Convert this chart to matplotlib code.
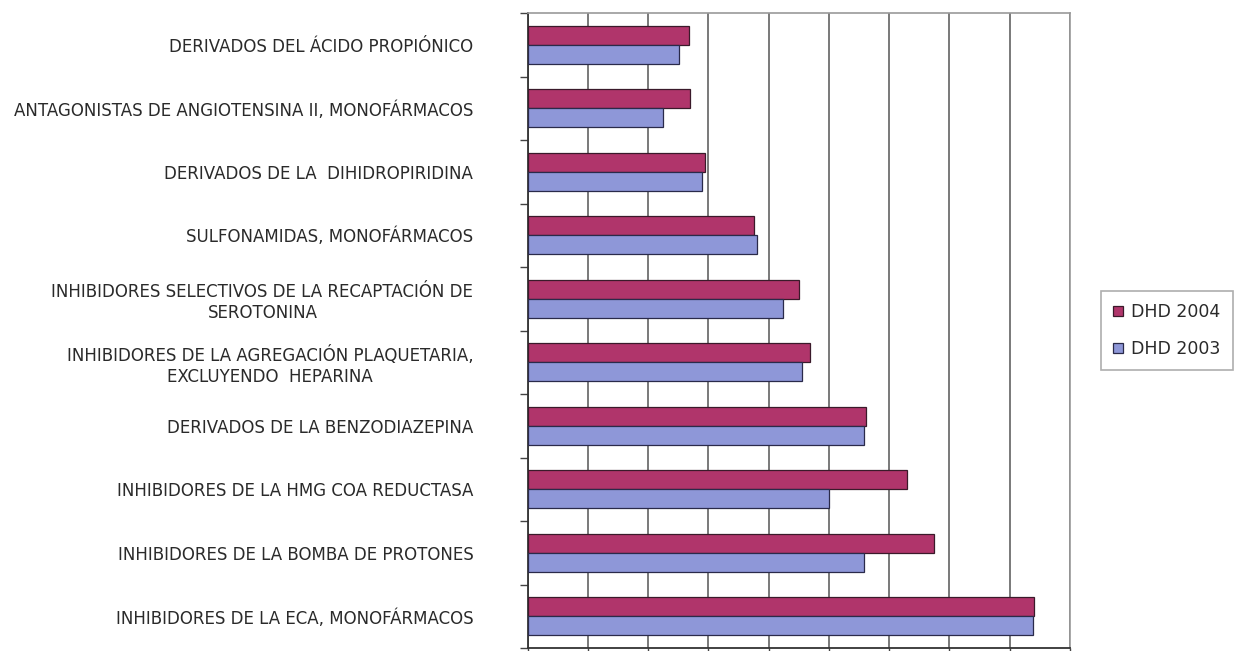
import matplotlib
matplotlib.use('Agg')
import matplotlib.pyplot as plt
import numpy as np

# ---- Data (top to bottom as shown) ----
categories = [
    'DERIVADOS DEL ÁCIDO PROPIÓNICO',
    'ANTAGONISTAS DE ANGIOTENSINA II, MONOFÁRMACOS',
    'DERIVADOS DE LA  DIHIDROPIRIDINA',
    'SULFONAMIDAS, MONOFÁRMACOS',
    'INHIBIDORES SELECTIVOS DE LA RECAPTACIÓN DE\nSEROTONINA',
    'INHIBIDORES DE LA AGREGACIÓN PLAQUETARIA,\nEXCLUYENDO  HEPARINA',
    'DERIVADOS DE LA BENZODIAZEPINA',
    'INHIBIDORES DE LA HMG COA REDUCTASA',
    'INHIBIDORES DE LA BOMBA DE PROTONES',
    'INHIBIDORES DE LA ECA, MONOFÁRMACOS',
]
dhd_2004 = [13.4, 13.5, 14.7, 18.8, 22.5, 23.4, 28.1, 31.5, 33.7, 42.0]
dhd_2003 = [12.6, 11.2, 14.5, 19.0, 21.2, 22.8, 27.9, 25.0, 27.9, 41.9]

C2004 = '#B0356B'
C2003 = '#8E97D8'

fig = plt.figure(figsize=(12.34, 6.51), dpi=100)
ax = fig.add_axes([527.5 / 1234, 3 / 651, (1070 - 527.5) / 1234, (648 - 13) / 651])

y = np.arange(len(categories))
h = 0.3
ax.barh(y - h / 2, dhd_2004, height=h, color=C2004, edgecolor='#3a1a2a',
        linewidth=0.9, label='DHD 2004', zorder=3)
ax.barh(y + h / 2, dhd_2003, height=h, color=C2003, edgecolor='#2a2a4a',
        linewidth=0.9, label='DHD 2003', zorder=3)

ax.set_xlim(0, 45)
ax.set_ylim(len(categories) - 0.5, -0.5)

# category boundary ticks (Excel style) + centered labels
ax.set_yticks(np.arange(len(categories) + 1) - 0.5)
ax.set_yticklabels([])
ax.set_yticks(y, minor=True)
ax.set_yticklabels(categories, minor=True, fontsize=12, color='#2a2a2a',
                   multialignment='center')
ax.tick_params(axis='y', which='major', length=6, width=1, color='#444444',
               direction='out')
ax.tick_params(axis='y', which='minor', length=0, pad=39)

ax.set_xticks(np.arange(0, 46, 5))
ax.set_xticklabels([])
ax.tick_params(axis='x', length=6, width=1, color='#444444', direction='out')

ax.grid(axis='x', color='#6e6e6e', linewidth=1.3, zorder=0)
for s in ['top', 'right']:
    ax.spines[s].set_color('#9a9a9a')
    ax.spines[s].set_linewidth(1.2)
for s in ['left', 'bottom']:
    ax.spines[s].set_color('#333333')
    ax.spines[s].set_linewidth(1.3)

leg = fig.legend(loc='upper left', bbox_to_anchor=(1101 / 1234, 1 - 291 / 651),
                 fontsize=12.5, frameon=True, fancybox=False, edgecolor='#9a9a9a',
                 handlelength=0.55, handleheight=0.55, handletextpad=0.5,
                 borderpad=0.7, labelspacing=1.1, borderaxespad=0)
leg.get_frame().set_linewidth(1.2)
for t in leg.get_texts():
    t.set_color('#2a2a2a')

fig.savefig('out.png', dpi=100)
plt.close(fig)
